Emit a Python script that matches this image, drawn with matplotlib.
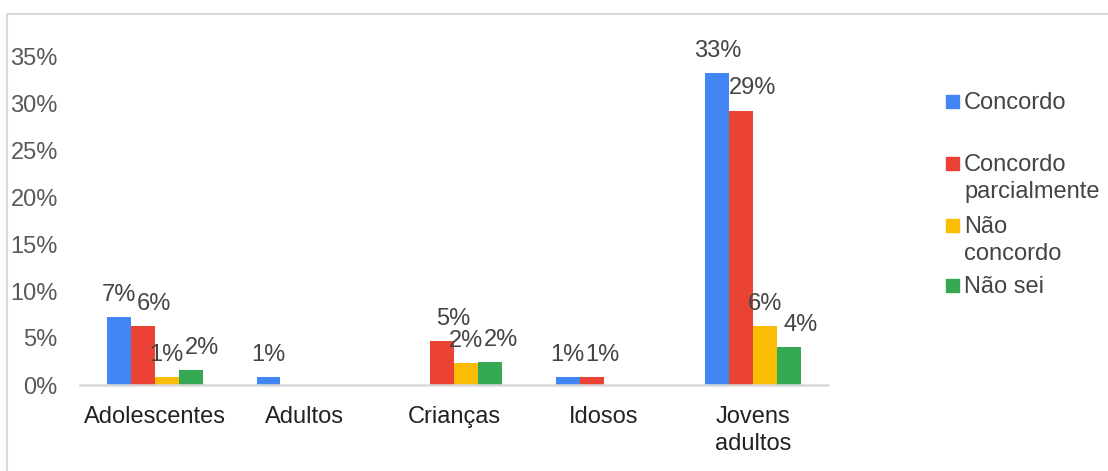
import matplotlib
matplotlib.use('Agg')
import matplotlib.pyplot as plt
import numpy as np
from matplotlib.patches import Rectangle

# Dados (%)
categorias = ['Adolescentes', 'Adultos', 'Crianças', 'Idosos', 'Jovens\nadultos']
series = ['Concordo', 'Concordo parcialmente', 'Não concordo', 'Não sei']
legenda = ['Concordo', 'Concordo\nparcialmente', 'Não\nconcordo', 'Não sei']
concordo = [7.2, 0.8, 0.0, 0.8, 33.2]
concordo_parc = [6.3, 0.0, 4.7, 0.8, 29.2]
nao_concordo = [0.8, 0.0, 2.3, 0.0, 6.3]
nao_sei = [1.6, 0.0, 2.4, 0.0, 4.0]
valores = [concordo, concordo_parc, nao_concordo, nao_sei]
y_ticks = [0, 5, 10, 15, 20, 25, 30, 35]

cores = ['#4285F4', '#EA4335', '#FBBC04', '#34A853']
desloc = [0, 8, 0, 8]  # deslocamento horizontal dos rótulos (pt)
plt.rcParams['font.family'] = ['Liberation Sans', 'DejaVu Sans']
FS = 17

W, H = 1108, 471
fig = plt.figure(figsize=(W / 100, H / 100), dpi=100)
ax = fig.add_axes([80 / W, 1 - 385 / H, 748 / W, (385 - 56) / H])

x = np.arange(len(categorias))
larg = 0.16
for i, (vals, cor) in enumerate(zip(valores, cores)):
    pos = x + (i - 1.5) * larg
    ax.bar(pos, vals, width=larg, color=cor, linewidth=0, zorder=2)
    for px, v in zip(pos, vals):
        if v > 0:
            ax.annotate(f'{v:.0f}%', (px, v), xytext=(desloc[i], 8),
                        textcoords='offset points', ha='center', va='bottom',
                        fontsize=FS, color='#444444')

ax.set_xlim(-0.5, len(categorias) - 0.5)
ax.set_ylim(0, 35)
ax.set_yticks(y_ticks)
ax.set_yticklabels([f'{t}%' for t in y_ticks], fontsize=FS, color='#595959')
ax.set_xticks(x)
ax.set_xticklabels(categorias, fontsize=FS, color='#222222', linespacing=1.3)
ax.tick_params(axis='both', length=0)
ax.tick_params(axis='y', pad=16)
ax.tick_params(axis='x', pad=15)
for s in ['top', 'right', 'left']:
    ax.spines[s].set_visible(False)
ax.spines['bottom'].set_color('#d9d9d9')
ax.spines['bottom'].set_linewidth(1.8)

# Legenda manual
y_leg = [101, 163, 225, 285]
for lbl, cor, yc in zip(legenda, cores, y_leg):
    fig.patches.append(Rectangle((946 / W, 1 - (yc + 7) / H), 13 / W, 13 / H,
                                 transform=fig.transFigure, color=cor))
    fig.text(964 / W, 1 - (yc - 9) / H, lbl, fontsize=FS, color='#444444',
             va='top', ha='left', linespacing=1.3)

# Moldura
fig.patches.append(Rectangle((7 / W, -0.1), 1.2, (H - 14) / H + 0.1,
                             transform=fig.transFigure, fill=False,
                             edgecolor='#d9d9d9', linewidth=1.5))

fig.savefig('out.png', dpi=100)
